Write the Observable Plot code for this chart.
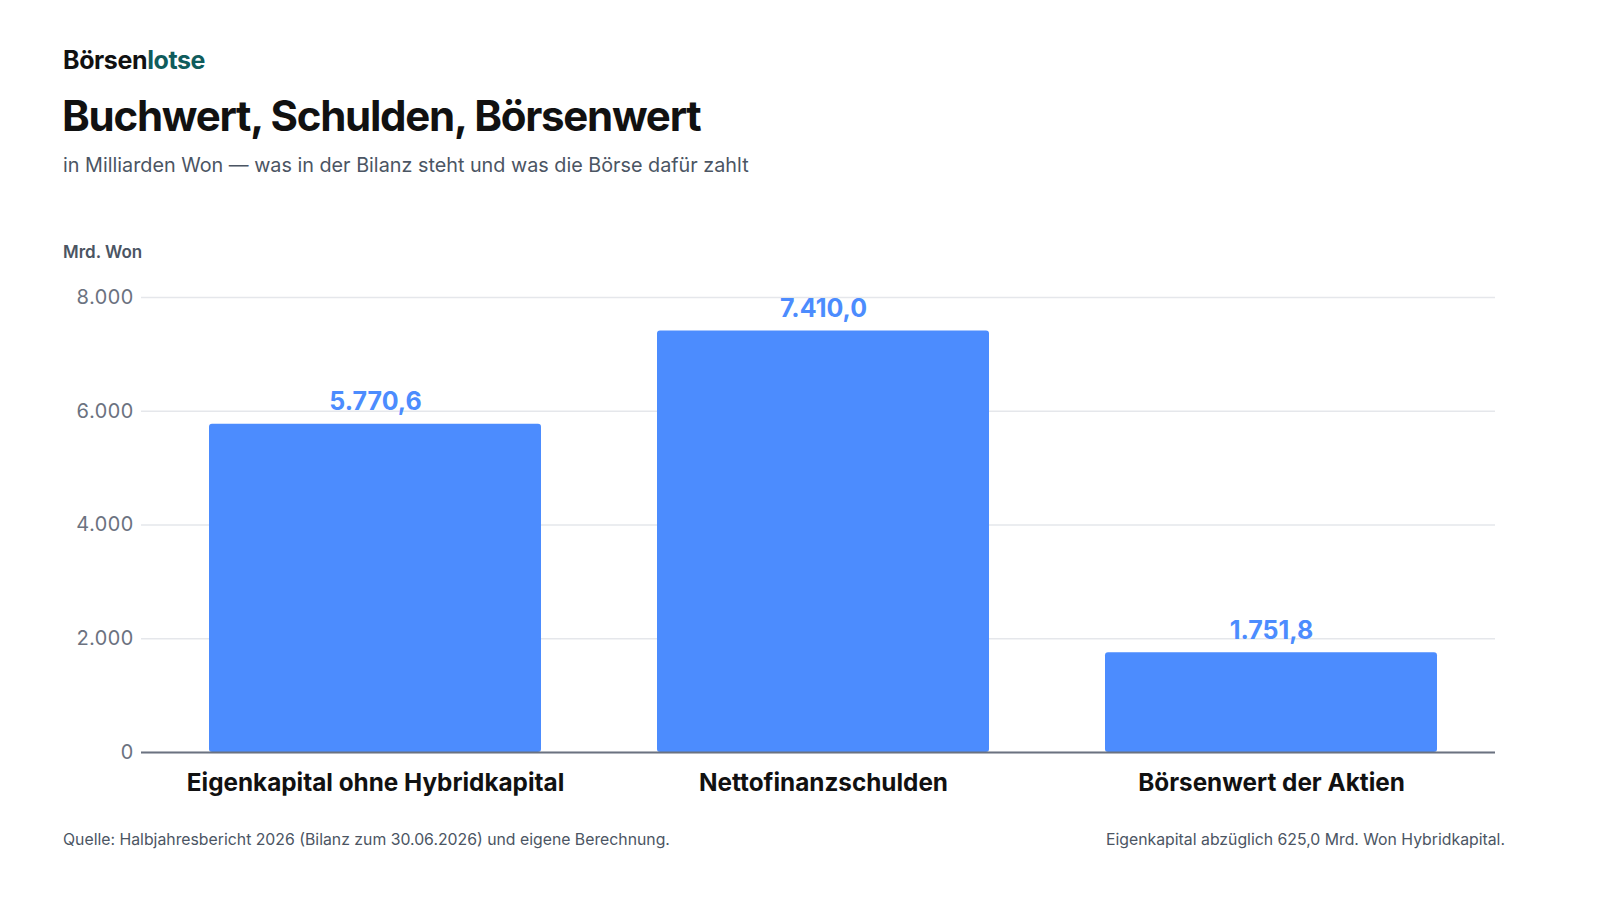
<!DOCTYPE html>
<html>
<head>
<meta charset="utf-8">
<script src="https://cdn.jsdelivr.net/npm/d3@7"></script>
<script src="https://cdn.jsdelivr.net/npm/@observablehq/plot@0.6"></script>
<style>
  html, body { margin: 0; padding: 0; background: #fff; }
  body { width: 1600px; height: 900px; position: relative; font-family: Inter, "Noto Sans", sans-serif; overflow: hidden; }
  .abs { position: absolute; white-space: nowrap; }
  #brand { left: 63px; top: 45px; font-size: 25px; font-weight: 700; color: #111; letter-spacing: -0.4px; line-height: 30px; }
  #brand span { color: #0f5c5c; }
  #title { left: 62px; top: 89px; font-size: 42px; font-weight: 700; color: #111; letter-spacing: -1.25px; line-height: 54px; }
  #subtitle { left: 63px; top: 152px; font-size: 19.8px; color: #4b5563; line-height: 26px; }
  #unit { left: 63px; top: 241px; font-size: 17px; font-weight: 600; color: #4b5563; line-height: 22px; }
  #chart { position: absolute; left: 0; top: 220px; }
  .foot { top: 829px; font-size: 15.8px; color: #4b5563; line-height: 22px; }
  #src { left: 63px; }
  #note { right: 95px; }
</style>
</head>
<body>
<div id="brand" class="abs">Börsen<span>lotse</span></div>
<div id="title" class="abs">Buchwert, Schulden, Börsenwert</div>
<div id="subtitle" class="abs">in Milliarden Won — was in der Bilanz steht und was die Börse dafür zahlt</div>
<div id="unit" class="abs">Mrd. Won</div>
<div id="chart"></div>
<div id="src" class="abs foot">Quelle: Halbjahresbericht 2026 (Bilanz zum 30.06.2026) und eigene Berechnung.</div>
<div id="note" class="abs foot">Eigenkapital abzüglich 625,0 Mrd. Won Hybridkapital.</div>
<script>
const categories = ["Eigenkapital ohne Hybridkapital", "Nettofinanzschulden", "Börsenwert der Aktien"];
const values = [5770.6, 7410.0, 1751.8];
const yTicks = [0, 2000, 4000, 6000, 8000];

const de = d3.formatLocale({decimal: ",", thousands: ".", grouping: [3], currency: ["", " €"]});
const fmtTick = de.format(",.0f");
const fmtVal = de.format(",.1f");

const data = categories.map((c, i) => ({category: c, value: values[i]}));

const chart = Plot.plot({
  width: 1600,
  height: 600,
  marginLeft: 141,
  marginRight: 105,
  marginTop: 77,
  marginBottom: 68,
  style: {fontFamily: "Inter, 'Noto Sans', sans-serif", background: "transparent"},
  x: {domain: categories, range: [146, 1500], paddingInner: 0.259, paddingOuter: 0.14, label: null},
  y: {domain: [0, 8000], label: null},
  marks: [
    Plot.gridY(yTicks, {stroke: "#e5e7eb", strokeOpacity: 1, strokeWidth: 1.5}),
    Plot.axisY(yTicks, {tickFormat: fmtTick, tickSize: 0, tickPadding: 8, fontSize: 20, fill: "#6b7280", label: null}),
    Plot.barY(data, {x: "category", y: "value", fill: "#4c8cfe", rx: 3}),
    Plot.ruleY([0], {stroke: "#6b7280", strokeWidth: 2}),
    Plot.text(data, {x: "category", y: "value", text: d => fmtVal(d.value), dy: -22, fill: "#4c8cfe", fontSize: 25, fontWeight: 700}),
    Plot.axisX({tickSize: 0, tickPadding: 21, fontSize: 24.3, fontWeight: 700, fill: "#111", label: null})
  ]
});
document.getElementById("chart").appendChild(chart);
</script>
</body>
</html>
